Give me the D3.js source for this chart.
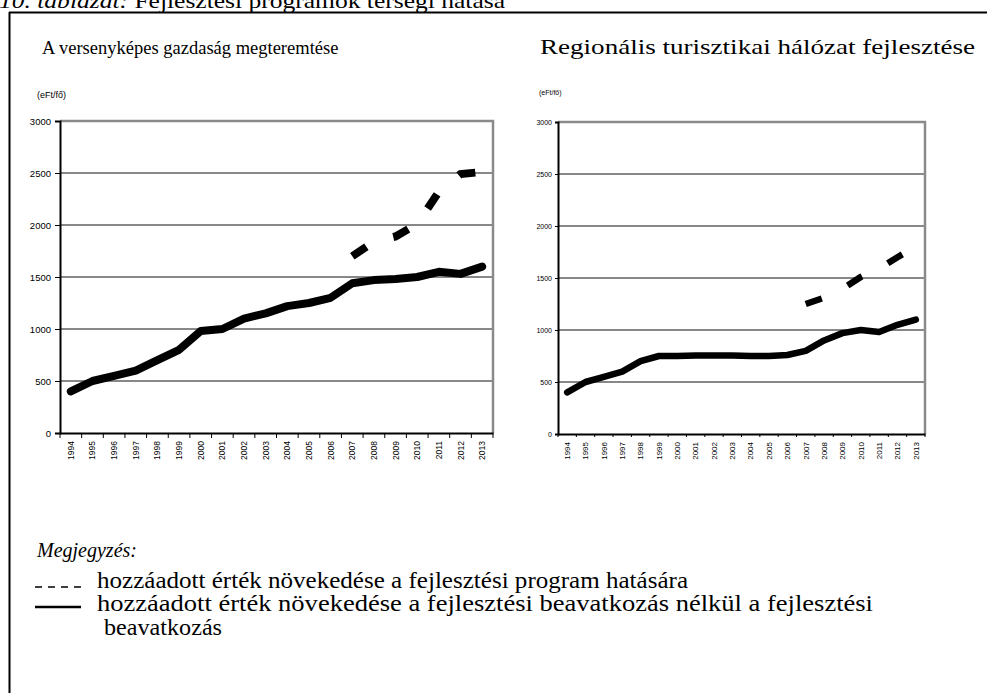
<!DOCTYPE html>
<meta charset="utf-8">
<style>
body { margin: 0; background: #fff; }
svg { display: block; }
.serif { font-family: "Liberation Serif", "Times New Roman", serif; fill: #000; }
.axis text { font-family: "Liberation Sans", Arial, sans-serif; fill: #000; }
</style>
<body>
<script src="https://cdn.jsdelivr.net/npm/d3@7/dist/d3.min.js"></script>
<script>

// categories
var years = ["1994", "1995", "1996", "1997", "1998", "1999", "2000", "2001", "2002", "2003",
             "2004", "2005", "2006", "2007", "2008", "2009", "2010", "2011", "2012", "2013"];
var progYears = ["2007", "2008", "2009", "2010", "2011", "2012", "2013"];
var yTicks = [0, 500, 1000, 1500, 2000, 2500, 3000];

// A versenyképes gazdaság megteremtése
var baseA = [400, 500, 550, 600, 700, 800, 980, 1000, 1100, 1150,
             1220, 1250, 1300, 1440, 1470, 1480, 1500, 1550, 1530, 1600];
var progA = [1700, 1840, 1890, 2010, 2320, 2490, 2510];

// Regionális turisztikai hálózat fejlesztése
var baseB = [400, 500, 550, 600, 700, 750, 750, 755, 755, 755,
             750, 750, 760, 800, 900, 970, 1000, 980, 1050, 1100];
var progB = [1250, 1310, 1395, 1510, 1590, 1700, 1800];

var width = 987, height = 693;

var svg = d3.select("body").append("svg")
    .attr("width", width)
    .attr("height", height);

svg.append("rect")
    .attr("width", width)
    .attr("height", height)
    .attr("fill", "#fff");

// caption, cut at the top edge
var cap = svg.append("text")
    .attr("class", "serif")
    .attr("x", -1)
    .attr("y", 8)
    .attr("textLength", 506)
    .attr("lengthAdjust", "spacingAndGlyphs")
    .style("font-size", "22px");
cap.append("tspan").style("font-style", "italic").text("10. táblázat:");
cap.append("tspan").text(" Fejlesztési programok térségi hatása");

// frame
svg.append("line")
    .attr("x1", 9.5).attr("x2", 9.5).attr("y1", 12).attr("y2", height)
    .attr("stroke", "#000").attr("stroke-width", 2);
svg.append("line")
    .attr("x1", 9).attr("x2", width).attr("y1", 12.5).attr("y2", 12.5)
    .attr("stroke", "#000").attr("stroke-width", 2);

function panel(o) {
  var g = svg.append("g");

  var x = d3.scaleBand().domain(years).range([o.left, o.right]);
  var y = d3.scaleLinear().domain([0, 3000]).range([o.bottom, o.top]);
  var cx = function(d) { return x(d[0]) + x.bandwidth() / 2; };

  // title
  var t = g.append("text")
      .attr("class", "serif")
      .attr("x", o.titleX)
      .attr("y", 54)
      .style("font-size", o.titleFont + "px")
      .text(o.title);
  if (o.titleW) t.attr("textLength", o.titleW).attr("lengthAdjust", "spacingAndGlyphs");

  // unit
  g.append("text")
      .attr("x", o.unitX)
      .attr("y", o.unitY)
      .style("font-family", "Liberation Sans, Arial, sans-serif")
      .style("font-size", o.unitFont + "px")
      .text("(eFt/fő)");

  // gridlines
  g.selectAll(".grid")
      .data(yTicks.slice(1, -1))
    .enter().append("line")
      .attr("x1", o.left).attr("x2", o.right)
      .attr("y1", function(d) { return y(d); })
      .attr("y2", function(d) { return y(d); })
      .attr("stroke", "#111")
      .attr("stroke-width", 1);

  // grey plot frame (top and right)
  g.append("path")
      .attr("d", "M" + o.left + "," + y(3000) + "H" + o.right + "V" + y(0))
      .attr("fill", "none")
      .attr("stroke", "#8a8a8a")
      .attr("stroke-width", 2.5);

  // y axis
  var ya = g.append("g")
      .attr("class", "axis")
      .attr("transform", "translate(" + o.left + ",0)")
      .call(d3.axisLeft(y).tickValues(yTicks).tickFormat(d3.format("d"))
        .tickSize(o.tick).tickPadding(o.pad));
  ya.select(".domain").attr("stroke-width", 2);
  ya.selectAll("text").style("font-size", o.yFont + "px");

  // x axis, labels in the bands
  var xa = g.append("g")
      .attr("class", "axis")
      .attr("transform", "translate(0," + o.bottom + ")")
      .call(d3.axisBottom(x).tickSize(0));
  xa.select(".domain").attr("stroke-width", 2);
  xa.selectAll("text")
      .attr("transform", "rotate(-90)")
      .attr("text-anchor", "end")
      .attr("x", -o.xOff)
      .attr("y", 0)
      .attr("dy", "0.35em")
      .style("font-size", o.xFont + "px");

  // tick marks between the bands
  xa.selectAll(".bt")
      .data(years.map(function(d) { return x(d); }).concat([x.range()[1]]))
    .enter().append("line")
      .attr("x1", function(d) { return d; })
      .attr("x2", function(d) { return d; })
      .attr("y1", 0).attr("y2", o.tick)
      .attr("stroke", "#000");

  var line = d3.line().x(cx).y(function(d) { return y(d[1]); });

  g.append("path")
      .datum(years.map(function(d, i) { return [d, o.base[i]]; }))
      .attr("fill", "none")
      .attr("stroke", "#000")
      .attr("stroke-width", o.sw)
      .attr("stroke-linejoin", "round")
      .attr("stroke-linecap", "round")
      .attr("d", line);

  g.append("path")
      .datum(progYears.map(function(d, i) { return [d, o.prog[i]]; }))
      .attr("fill", "none")
      .attr("stroke", "#000")
      .attr("stroke-width", o.sw)
      .attr("stroke-dasharray", "17,29")
      .attr("d", line);
}

panel({
  title: "A versenyképes gazdaság megteremtése", titleX: 42, titleFont: 18.5,
  unitX: 37, unitY: 98, unitFont: 9,
  left: 60, right: 493, top: 121, bottom: 433,
  tick: 5, pad: 4, yFont: 9.5, xFont: 8.5, xOff: 8, sw: 8,
  base: baseA, prog: progA
});

panel({
  title: "Regionális turisztikai hálózat fejlesztése", titleX: 540, titleW: 435, titleFont: 22,
  unitX: 539, unitY: 95, unitFont: 7,
  left: 558, right: 925, top: 122, bottom: 434,
  tick: 3, pad: 3, yFont: 7, xFont: 8, xOff: 8, sw: 6.5,
  base: baseB, prog: progB
});

// note / legend
svg.append("text")
    .attr("class", "serif")
    .attr("x", 37)
    .attr("y", 557)
    .style("font-size", "20px")
    .style("font-style", "italic")
    .text("Megjegyzés:");

svg.append("line")
    .attr("x1", 35).attr("x2", 86).attr("y1", 587).attr("y2", 587)
    .attr("stroke", "#000").attr("stroke-width", 1.5)
    .attr("stroke-dasharray", "7,6");
svg.append("text")
    .attr("class", "serif")
    .attr("x", 97)
    .attr("y", 588)
    .attr("textLength", 591)
    .attr("lengthAdjust", "spacingAndGlyphs")
    .style("font-size", "23px")
    .text("hozzáadott érték növekedése a fejlesztési program hatására");

svg.append("line")
    .attr("x1", 35).attr("x2", 81).attr("y1", 607).attr("y2", 607)
    .attr("stroke", "#000").attr("stroke-width", 2.5);
svg.append("text")
    .attr("class", "serif")
    .attr("x", 97)
    .attr("y", 611)
    .attr("textLength", 776)
    .attr("lengthAdjust", "spacingAndGlyphs")
    .style("font-size", "23px")
    .text("hozzáadott érték növekedése a fejlesztési beavatkozás nélkül a fejlesztési");
svg.append("text")
    .attr("class", "serif")
    .attr("x", 104)
    .attr("y", 635)
    .attr("textLength", 118)
    .attr("lengthAdjust", "spacingAndGlyphs")
    .style("font-size", "23px")
    .text("beavatkozás");

</script>
</body>
